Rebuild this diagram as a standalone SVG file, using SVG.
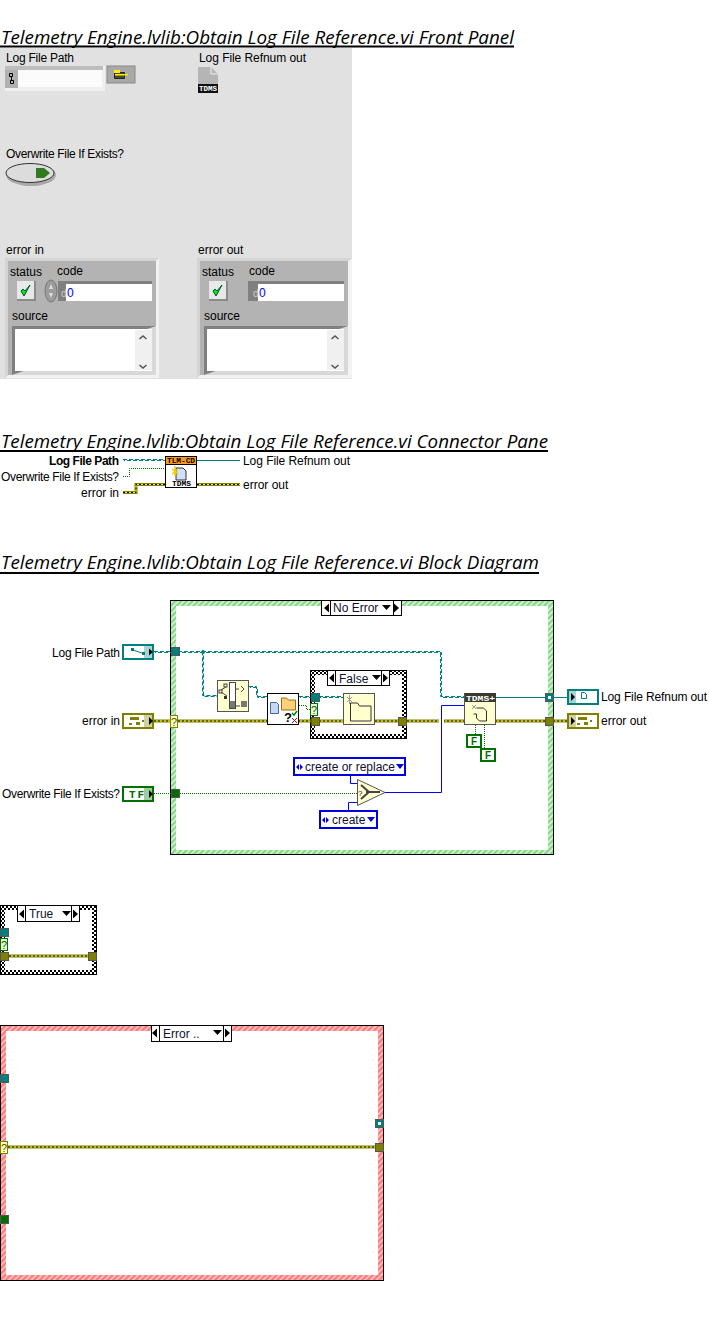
<svg xmlns="http://www.w3.org/2000/svg" width="709" height="1331" viewBox="0 0 709 1331">
<style>
text{font-family:"Liberation Sans","Noto Sans",sans-serif;font-size:12px;fill:#000}
.t{font-family:"Open Sans","Noto Sans",sans-serif;font-size:18px;font-style:italic}
.r{text-anchor:end}
.b{font-weight:700}
.sel{font-size:12px;fill:#101030}
.tiny{font-family:"Liberation Mono",monospace;font-size:7px;font-weight:700}
.ul{stroke:#000;stroke-width:2;fill:none}
.box{fill:#fff;stroke:#000}
.cream{fill:#ffffd0;stroke:#555}
.wn{fill:#fff;stroke:#000}
.tun{stroke:#555}
.teal{fill:#007f7f}.oli{fill:#7f7f00}.grn{fill:#006f00}
.w-t1{fill:none;stroke:#007f7f;stroke-width:1;stroke-dasharray:4 2}
.w-t2{fill:none;stroke:#007f7f;stroke-width:1;stroke-dasharray:4 2;stroke-dashoffset:3}
.w-s{fill:none;stroke:#007f7f;stroke-width:1}
.w-g{fill:none;stroke:#006f00;stroke-width:1;stroke-dasharray:1 1}
.w-b{fill:none;stroke:#0000ff;stroke-width:1}
.w-e1{fill:none;stroke:#7f7f00;stroke-width:3}
.w-e2{fill:none;stroke:#ffff00;stroke-width:1}
.w-e3{fill:none;stroke:#000;stroke-width:1;stroke-dasharray:2 2}
.term{fill:#fff;stroke-width:2}
.enum{fill:#fff;stroke:#0000e0;stroke-width:2}
.fc{fill:#fff;stroke:#007000;stroke-width:2}
.gray{fill:#b3b3b3}
.edge{fill:#d4d4d4}
.dk{fill:#808080}
.wh{fill:#fff}
</style>
<defs>
<pattern id="hg" width="4" height="4" patternUnits="userSpaceOnUse" patternTransform="rotate(45)"><rect width="4" height="4" fill="#dff5df"/><rect width="2.4" height="4" fill="#86d886"/></pattern>
<pattern id="hr" width="4" height="4" patternUnits="userSpaceOnUse" patternTransform="rotate(45)"><rect width="4" height="4" fill="#ffd5d5"/><rect width="2.6" height="4" fill="#ff7a7a"/></pattern>
<pattern id="ck" width="4" height="4" patternUnits="userSpaceOnUse"><rect width="4" height="4" fill="#fff"/><rect width="2" height="2" fill="#000"/><rect x="2" y="2" width="2" height="2" fill="#000"/></pattern>
<path id="pe" d="M154 721H311M319 721H398M407 721H545M553 721H567"/>
<path id="pe2" d="M9 956H88"/>
<path id="pe3" d="M8 1147H375"/>
<path id="pe4" d="M123 492.500H136V484.500H165M197 484.500H240"/>
<path id="pt0" d="M123 459.500H165"/>
<path id="pt1" d="M154 651.500H440.500V696.500H464"/>
<path id="pt2" d="M202.500 651.500V695.500H217"/>
<path id="pt3" d="M249 686.500H256.500V696.500H267"/>
<path id="pt4" d="M299 696.500H311M319 696.500H343"/>
</defs>
<rect width="709" height="1331" fill="#fff"/>

<g id="titles">
<text class="t" x="1" y="44" textLength="513" lengthAdjust="spacingAndGlyphs">Telemetry Engine.lvlib:Obtain Log File Reference.vi Front Panel</text>
<path class="ul" d="M0 46.500H514"/>
<text class="t" x="1" y="448" textLength="547" lengthAdjust="spacingAndGlyphs">Telemetry Engine.lvlib:Obtain Log File Reference.vi Connector Pane</text>
<path class="ul" d="M0 451H548"/>
<text class="t" x="1" y="569" textLength="538" lengthAdjust="spacingAndGlyphs">Telemetry Engine.lvlib:Obtain Log File Reference.vi Block Diagram</text>
<path class="ul" d="M0 573H539"/>
</g>

<g id="front-panel">
<rect x="0" y="48" width="352" height="331" fill="#e1e1e1"/>
<g id="fp-path">
<text x="6" y="62" textLength="68">Log File Path</text>
<rect x="5" y="66" width="100" height="25" fill="#f0f0f0"/>
<rect x="5" y="66" width="98" height="4" fill="#bdbdbd"/>
<rect x="5" y="70" width="13" height="18" fill="#b0b0b0"/>
<rect x="18" y="70" width="84" height="17" fill="#fbfbfb"/>
<path d="M9.500 73.500h3v3h-3zM11.500 76.500v4M10.500 80.500h3v3h-3z" fill="none" stroke="#000"/>
<rect x="107" y="66" width="28" height="17" fill="#a8a8a8" stroke="#888"/>
<path d="M114.500 70.500h4l1 2h5v6h-10z" fill="#4a4a30" stroke="#222"/>
<rect x="114" y="70" width="6" height="3" fill="#ffee00"/>
<rect x="115" y="74" width="13" height="1.500" fill="#ffee00"/>
</g>
<g id="fp-refnum">
<text x="199" y="62" textLength="107">Log File Refnum out</text>
<path d="M198 67h13l7 7v19h-20z" fill="#b5b5b5"/>
<path d="M211 67v7h7" fill="none" stroke="#eee"/>
<rect x="198" y="84" width="20" height="9" fill="#111"/>
<text class="tiny" x="199" y="91" textLength="18" lengthAdjust="spacingAndGlyphs" style="fill:#fff">TDMS</text>
</g>
<g id="fp-bool">
<text x="6" y="158" textLength="118">Overwrite File If Exists?</text>
<ellipse cx="31" cy="175" rx="25" ry="11" fill="#a9a9a9"/>
<ellipse cx="30" cy="173" rx="24" ry="9.500" fill="#dcdcdc" stroke="#333"/>
<path d="M36 168h8l6 5-6 5h-8z" fill="#2f7a1f"/>
</g>
<g id="fp-error-in">
<text x="6" y="254">error in</text>
<rect x="5" y="258" width="154" height="120" fill="#f2f2f2"/>
<rect x="5" y="258" width="151" height="117" class="gray"/>
<path d="M5 258h154l-3 3H8v114l-3 3z" class="edge"/>
<text x="10" y="276">status</text><text x="57" y="275">code</text>
<rect x="17" y="281" width="19" height="20" fill="#8a8a8a"/><rect x="17" y="281" width="17" height="18" fill="#e8e8e8"/>
<path d="M21 291l3 5 6-11-5 6-2-2z" fill="#00ee00" stroke="#053" stroke-width="1"/>
<ellipse cx="51" cy="291" rx="6" ry="11" fill="#9c9c9c" stroke="#777"/>
<path d="M51 284l2 5h-4zM51 298l2-5h-4z" fill="#ddd"/>
<rect x="58" y="281" width="94" height="20" class="dk"/>
<rect x="66" y="284" width="86" height="17" class="wh"/>
<text x="61" y="297" style="fill:#ccc;font-size:10px">d</text>
<text x="67" y="297" style="fill:#0000ff">0</text>
<text x="12" y="320">source</text>
<rect x="12" y="326" width="144" height="49" class="dk"/>
<path d="M156 326v49H12z" fill="#d8d8d8"/>
<rect x="15" y="329" width="137" height="42" class="wh"/>
<rect x="135" y="330" width="17" height="40" fill="#f0f0f0"/>
<path d="M139.500 339l3.500-3 3.500 3M139.500 365l3.500 3 3.500-3" fill="none" stroke="#555" stroke-width="1.500"/>
</g>
<g id="fp-error-out">
<text x="198" y="254">error out</text>
<rect x="197" y="258" width="155" height="120" fill="#f2f2f2"/>
<rect x="197" y="258" width="151" height="117" class="gray"/>
<path d="M197 258h155l-3 3H200v114l-3 3z" class="edge"/>
<text x="202" y="276">status</text><text x="249" y="275">code</text>
<rect x="209" y="281" width="19" height="20" fill="#8a8a8a"/><rect x="209" y="281" width="17" height="18" fill="#e8e8e8"/>
<path d="M213 291l3 5 6-11-5 6-2-2z" fill="#00ee00" stroke="#053" stroke-width="1"/>
<rect x="248" y="281" width="96" height="20" class="dk"/>
<rect x="258" y="284" width="86" height="17" class="wh"/>
<text x="253" y="297" style="fill:#ccc;font-size:10px">d</text>
<text x="259" y="297" style="fill:#0000ff">0</text>
<text x="204" y="320">source</text>
<rect x="204" y="326" width="144" height="49" class="dk"/>
<path d="M348 326v49H204z" fill="#d8d8d8"/>
<rect x="207" y="329" width="137" height="42" class="wh"/>
<rect x="327" y="330" width="17" height="40" fill="#f0f0f0"/>
<path d="M331.500 339l3.500-3 3.500 3M331.500 365l3.500 3 3.500-3" fill="none" stroke="#555" stroke-width="1.500"/>
</g>
</g>

<g id="connector-pane">
<g id="cp-connectors">
<use href="#pt0" class="w-t1"/><use href="#pt0" class="w-t2" transform="translate(1 1)"/>
<path class="w-g" d="M123 476.500H129.500V468.500H165"/>
<use href="#pe4" class="w-e1"/><use href="#pe4" class="w-e2"/><use href="#pe4" class="w-e3"/>
<path class="w-s" d="M197 460.500H240"/>
</g>
<g id="cp-icon">
<rect class="box" x="165.500" y="456.500" width="31" height="31"/>
<rect x="166" y="457" width="30" height="8" fill="#ff9a1a"/>
<path d="M165.500 464.500h31" stroke="#000"/>
<text class="tiny" x="167" y="463" textLength="28" lengthAdjust="spacingAndGlyphs">TLM-CD</text>
<path d="M176 468h7l3 3v9h-10z" fill="#cfe0f7" stroke="#333"/>
<path d="M172 469l6 5M178 469l-6 5M175 466v10" stroke="#f0d000" stroke-width="1.500"/>
<text class="tiny" x="172" y="486" textLength="19" lengthAdjust="spacingAndGlyphs">TDMS</text>
</g>
<g id="cp-labels">
<text class="r b" x="119" y="465" textLength="70">Log File Path</text>
<text class="r" x="119" y="481" textLength="118">Overwrite File If Exists?</text>
<text class="r" x="119" y="497">error in</text>
<text x="243" y="465" textLength="107">Log File Refnum out</text>
<text x="243" y="489">error out</text>
</g>
</g>

<g id="no-error-case">
<rect x="170.500" y="600.500" width="383" height="254" fill="url(#hg)" stroke="#000"/>
<rect x="176" y="606" width="372" height="244" fill="#fff"/>
</g>

<g id="false-case">
<rect x="310.500" y="670.500" width="96" height="68" fill="url(#ck)" stroke="#000"/>
<rect x="315" y="675" width="87" height="59" fill="#fff"/>
</g>

<g id="connectors">
<use href="#pt1" class="w-t1"/><use href="#pt1" class="w-t2" transform="translate(1 1)"/>
<use href="#pt2" class="w-t1"/><use href="#pt2" class="w-t2" transform="translate(1 1)"/>
<use href="#pt3" class="w-t1"/><use href="#pt3" class="w-t2" transform="translate(1 1)"/>
<use href="#pt4" class="w-t1"/><use href="#pt4" class="w-t2" transform="translate(1 1)"/>
<circle cx="203" cy="652" r="2" fill="#007f7f"/>
<path class="w-g" d="M299 705.500H306.500V709.500H310"/>
<path class="w-g" d="M154 793.500H357"/>
<path class="w-g" d="M475.500 725V734M484.500 725V748"/>
<path class="w-s" d="M496 697.500H545M553 697.500H567"/>
<use href="#pe" class="w-e1"/><use href="#pe" class="w-e2"/><use href="#pe" class="w-e3"/>
<rect x="439" y="719" width="5" height="5" fill="#fff"/>
<path class="w-b" d="M464 705.500H441.500V792.500H385"/>
<path class="w-b" d="M350.500 776V783.500H357"/>
<path class="w-b" d="M348.500 810V802.500H357"/>
</g>

<g id="selector-main">
<rect class="wn" x="321.500" y="600.500" width="80" height="15"/>
<path d="M330.500 600v16M393.500 600v16" stroke="#000"/>
<path d="M324 608l5-4.500v9zM399 608l-5-4.500v9z" fill="#000"/>
<text class="sel" x="333" y="612">No Error</text>
<path d="M382 605h9l-4.500 5z" fill="#000"/>
</g>
<g id="selector-false">
<rect class="wn" x="327.500" y="670.500" width="62" height="15"/>
<path d="M335.500 670v16M381.500 670v16" stroke="#000"/>
<path d="M329 678l5-4.500v9zM388 678l-5-4.500v9z" fill="#000"/>
<text class="sel" x="339" y="683">False</text>
<path d="M372 675h9l-4.500 5z" fill="#000"/>
</g>

<g id="term-log-file-path">
<text class="r" x="120" y="657" textLength="68">Log File Path</text>
<rect class="term" x="123" y="645" width="30" height="14" stroke="#007f7f"/>
<rect x="144" y="646" width="8" height="12" fill="#a8d4d4"/>
<path d="M149 648.500l4 3.500-4 3.500z" fill="#000"/>
<path d="M131 649.500l11 3.500" stroke="#007f7f" fill="none"/><rect x="131" y="648" width="3" height="3" fill="#007f7f"/><rect x="142" y="652" width="3" height="3" fill="#007f7f"/>
</g>
<g id="term-error-in">
<text class="r" x="120" y="725">error in</text>
<rect class="term" x="123" y="714" width="30" height="14" stroke="#7f7f00"/>
<rect x="144" y="715" width="8" height="12" fill="#d0d0a0"/>
<path d="M149 717l4 4-4 4z" fill="#000"/>
<path d="M130 717h9v3h-9zM129 723h3v2h-3zM136 722h4v3h-4zM142 720h2v2h-2z" fill="#7f7f00"/>
</g>
<g id="term-overwrite">
<text class="r" x="120" y="798" textLength="118">Overwrite File If Exists?</text>
<rect class="term" x="123" y="787" width="30" height="14" stroke="#007000"/>
<rect x="144" y="788" width="8" height="12" fill="#a0cca0"/>
<path d="M149 790l4 4-4 4z" fill="#000"/>
<text x="129" y="798" class="b" style="fill:#006f00;font-size:11px;letter-spacing:2px;font-family:'Liberation Mono',monospace">TF</text>
</g>

<g id="tunnels-main">
<rect class="tun teal" x="171.500" y="647.500" width="8" height="8"/>
<rect class="tun grn" x="171.500" y="789.500" width="8" height="8"/>
<rect x="170.500" y="715.500" width="7" height="12" fill="#ffffc0" stroke="#7f7f00"/>
<text x="171" y="726" style="font-size:11px;fill:#555500">?</text>
<rect class="tun teal" x="545.500" y="693.500" width="8" height="8"/><rect x="548" y="696" width="3" height="3" fill="#fff"/>
<rect class="tun oli" x="545.500" y="717.500" width="8" height="8"/>
</g>
<g id="tunnels-false">
<rect class="tun teal" x="311.500" y="693.500" width="8" height="8"/>
<rect x="310.500" y="703.500" width="7" height="12" fill="#e8ffd8" stroke="#006f00"/>
<text x="311" y="714" style="font-size:11px;fill:#005500">?</text>
<rect class="tun oli" x="311.500" y="717.500" width="8" height="8"/>
<rect class="tun oli" x="398.500" y="717.500" width="8" height="8"/>
</g>

<g id="node-strip-path">
<rect class="cream" x="217.500" y="680.500" width="31" height="31"/>
<rect x="229.500" y="682.500" width="6" height="26" fill="#fff" stroke="#444"/>
<rect x="230" y="701" width="5" height="7" fill="#777"/>
<rect x="241" y="701" width="6" height="6" fill="#777"/>
<path d="M221 690l5-3M221 692l6 4M236 689h3M236 706h4M241 686l3 3-3 3" fill="none" stroke="#444"/>
<rect x="219" y="690" width="3" height="3" fill="none" stroke="#444"/><rect x="224" y="684" width="3" height="3" fill="none" stroke="#444"/><rect x="224" y="696" width="3" height="3" fill="#333"/>
</g>
<g id="node-file-check">
<rect class="box" x="267.500" y="693.500" width="31" height="31"/>
<path d="M270.500 702.500h6l2 2v9h-8z" fill="#c8d8f4" stroke="#46a"/>
<path d="M281.500 702v-4h5l2 2h7v10h-14z" fill="#ffd27a" stroke="#a06a10"/>
<text x="284" y="722" class="b" style="font-size:13px">?</text>
<path d="M292 713l2 2 3-4" stroke="#080" fill="none" stroke-width="1.500"/>
<path d="M292 718l5 5M297 718l-5 5" stroke="#d00" fill="none"/>
</g>
<g id="node-create-folder">
<rect class="cream" x="343.500" y="693.500" width="31" height="31"/>
<path d="M350.500 706v-3h7l2 3h11.500v15H350.500z" fill="none" stroke="#333"/>
<path d="M347 697l5 5M352 697l-5 5M349.500 695v9" stroke="#999" fill="none"/>
</g>
<g id="node-tdms-open">
<rect class="cream" x="464.500" y="693.500" width="31" height="31"/>
<rect x="465" y="693" width="31" height="9" fill="#3a3a30"/>
<text class="tiny" x="466" y="700.500" textLength="29" lengthAdjust="spacingAndGlyphs" style="fill:#fff">TDMS+</text>
<path d="M476.500 708h7l3 3v10h-7l-3-3v-4h-3" fill="none" stroke="#333"/>
<path d="M472 705l4 4M476 705l-4 4" stroke="#999"/>
</g>
<g id="const-f1">
<rect class="fc" x="467" y="735" width="14" height="12"/>
<text class="b" x="471" y="745" style="font-size:10px;fill:#006f00">F</text>
</g>
<g id="const-f2">
<rect class="fc" x="481" y="749" width="14" height="12"/>
<text class="b" x="485" y="759" style="font-size:10px;fill:#006f00">F</text>
</g>
<g id="enum-create-or-replace">
<rect class="enum" x="294" y="758" width="111" height="17"/>
<path d="M296 767l3-3v6zM303 767l-3-3v6z" fill="#0000e0"/>
<text x="305" y="771" class="sel">create or replace</text>
<path d="M396 764h8l-4 5z" fill="#0000e0"/>
</g>
<g id="enum-create">
<rect class="enum" x="320" y="811" width="57" height="17"/>
<path d="M322 820l3-3v6zM329 820l-3-3v6z" fill="#0000e0"/>
<text x="332" y="824" class="sel">create</text>
<path d="M367 817h8l-4 5z" fill="#0000e0"/>
</g>
<g id="node-select">
<path d="M357.500 779.500l27.500 13-27.500 13z" fill="#ffffd0" stroke="#555"/>
<path d="M361 785l8 7M361 799l8-7M366 792h14" stroke="#444" stroke-width="2" fill="none"/>
<text x="358" y="796" style="font-size:8px">?</text>
</g>

<g id="ind-refnum">
<rect class="term" x="568" y="690" width="30" height="14" stroke="#007f7f"/>
<rect x="569" y="691" width="7" height="12" fill="#a8d4d4"/>
<path d="M571 693l4 4-4 4z" fill="#000"/>
<path d="M581.500 692.500h3l2 2v4h-5z" fill="none" stroke="#007f7f"/>
<text x="601" y="701" textLength="106">Log File Refnum out</text>
</g>
<g id="ind-error">
<rect class="term" x="568" y="714" width="30" height="14" stroke="#7f7f00"/>
<rect x="569" y="715" width="7" height="12" fill="#d0d0a0"/>
<path d="M571 717l4 4-4 4z" fill="#000"/>
<path d="M578 717h9v3h-9zM577 723h3v2h-3zM584 722h4v3h-4zM590 720h2v2h-2z" fill="#7f7f00"/>
<text x="601" y="725">error out</text>
</g>

<g id="true-case">
<rect x="0.500" y="905.500" width="96" height="69" fill="url(#ck)" stroke="#000"/>
<rect x="5" y="910" width="87" height="60" fill="#fff"/>
<rect class="wn" x="17.500" y="905.500" width="62" height="16"/>
<path d="M25.500 905v17M71.500 905v17" stroke="#000"/>
<path d="M19 914l5-4.500v9zM78 914l-5-4.500v9z" fill="#000"/>
<text class="sel" x="29" y="918">True</text>
<path d="M62 911h9l-4.500 5z" fill="#000"/>
<use href="#pe2" class="w-e1"/><use href="#pe2" class="w-e2"/><use href="#pe2" class="w-e3"/>
<rect class="tun teal" x="0.500" y="928.500" width="8" height="8"/>
<rect x="0.500" y="938.500" width="7" height="12" fill="#e8ffd8" stroke="#006f00"/>
<text x="1" y="949" style="font-size:11px;fill:#005500">?</text>
<rect class="tun oli" x="0.500" y="952.500" width="8" height="8"/>
<rect class="tun oli" x="88.500" y="952.500" width="8" height="8"/>
</g>

<g id="error-case">
<rect x="0.500" y="1025.500" width="383" height="255" fill="url(#hr)" stroke="#000"/>
<rect x="6" y="1031" width="372" height="244" fill="#fff"/>
<rect class="wn" x="151.500" y="1025.500" width="80" height="16"/>
<path d="M159.500 1025v17M223.500 1025v17" stroke="#000"/>
<path d="M152 1033l5-4.500v9zM230 1033l-5-4.500v9z" fill="#000"/>
<text class="sel" x="163" y="1038">Error ..</text>
<path d="M213 1030h9l-4.500 5z" fill="#000"/>
<use href="#pe3" class="w-e1"/><use href="#pe3" class="w-e2"/><use href="#pe3" class="w-e3"/>
<rect class="tun teal" x="0.500" y="1074.500" width="8" height="8"/>
<rect x="0.500" y="1141.500" width="7" height="12" fill="#ffffc0" stroke="#7f7f00"/>
<text x="1" y="1152" style="font-size:11px;fill:#555500">?</text>
<rect class="tun grn" x="0.500" y="1215.500" width="8" height="8"/>
<rect class="tun teal" x="375.500" y="1119.500" width="8" height="8"/><rect x="378" y="1122" width="3" height="3" fill="#fff"/>
<rect class="tun oli" x="375.500" y="1143.500" width="8" height="8"/>
</g>
</svg>
